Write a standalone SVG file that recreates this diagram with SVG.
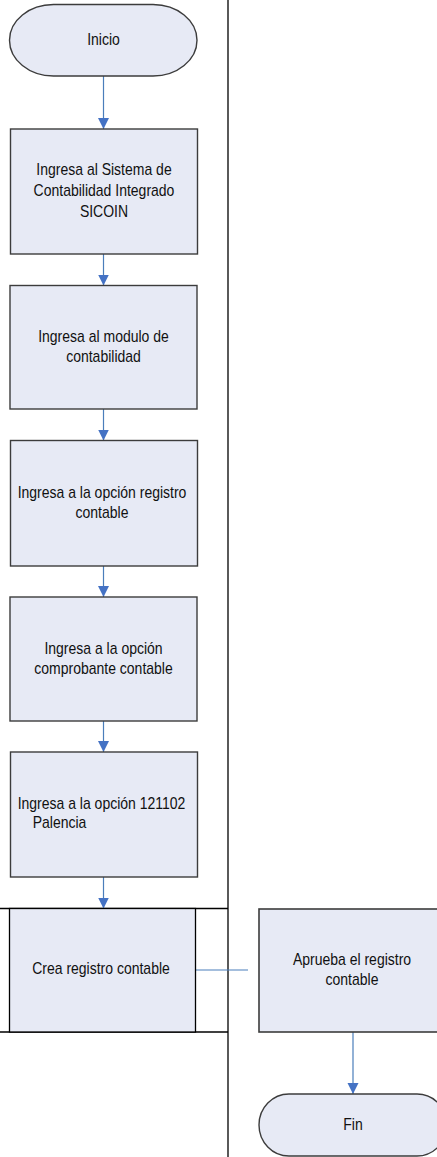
<svg xmlns="http://www.w3.org/2000/svg" width="437" height="1157" viewBox="0 0 437 1157">
<style>
.box{fill:#E7EAF5;stroke:#3c3c3c;stroke-width:1.4}
.lane{fill:none;stroke:#000;stroke-width:1.3}
.conn{fill:none;stroke:#4A7EBB;stroke-width:1.2}
text{font-family:"Liberation Sans",Arial,sans-serif;font-size:14px;fill:#111;text-anchor:middle}
</style>
<defs>
<marker id="arr" markerWidth="12" markerHeight="12" refX="11" refY="6" orient="auto" markerUnits="userSpaceOnUse">
<path d="M0,0.5 L11,6 L0,11.5 Z" fill="#4472C4"/>
</marker>
</defs>
<g id="lanes">
<line class="lane" x1="228" y1="0" x2="228" y2="1157"/>
<line class="lane" x1="0" y1="908.5" x2="228" y2="908.5"/>
<line class="lane" x1="0" y1="1032" x2="228" y2="1032"/>
</g>
<g id="connectors">
<line class="conn" x1="103.5" y1="76" x2="103.5" y2="129" marker-end="url(#arr)"/>
<line class="conn" x1="103.5" y1="254" x2="103.5" y2="285.5" marker-end="url(#arr)"/>
<line class="conn" x1="103.5" y1="409" x2="103.5" y2="440.5" marker-end="url(#arr)"/>
<line class="conn" x1="103.5" y1="566" x2="103.5" y2="597" marker-end="url(#arr)"/>
<line class="conn" x1="103.5" y1="721" x2="103.5" y2="752" marker-end="url(#arr)"/>
<line class="conn" x1="103.5" y1="877" x2="103.5" y2="908.5" marker-end="url(#arr)"/>
<line class="conn" x1="195.5" y1="970" x2="248" y2="970"/>
<line class="conn" x1="353" y1="1032" x2="353" y2="1094" marker-end="url(#arr)"/>
</g>
<g id="inicio">
<rect class="box" x="9.5" y="4.5" width="187.5" height="71.5" rx="44" ry="35.75"/>
<text transform="translate(103.5 45) scale(1 1.14)">Inicio</text>
</g>
<g id="n1">
<rect class="box" x="10.5" y="129" width="187" height="125"/>
<text transform="translate(104 175) scale(1 1.14)">Ingresa al Sistema de</text>
<text transform="translate(104 196) scale(1 1.14)">Contabilidad Integrado</text>
<text transform="translate(104 217) scale(1 1.14)">SICOIN</text>
</g>
<g id="n2">
<rect class="box" x="10" y="285.5" width="187" height="123.5"/>
<text transform="translate(103.5 342) scale(1 1.14)">Ingresa al modulo de</text>
<text transform="translate(103.5 362) scale(1 1.14)">contabilidad</text>
</g>
<g id="n3">
<rect class="box" x="10.5" y="440.5" width="187" height="125.5"/>
<text transform="translate(102 498) scale(1 1.14)">Ingresa a la opción registro</text>
<text transform="translate(102 518) scale(1 1.14)">contable</text>
</g>
<g id="n4">
<rect class="box" x="10" y="597" width="187" height="124"/>
<text transform="translate(103.5 653.5) scale(1 1.14)">Ingresa a la opción</text>
<text transform="translate(103.5 674) scale(1 1.14)">comprobante contable</text>
</g>
<g id="n5">
<rect class="box" x="10.5" y="752" width="187" height="125"/>
<text transform="translate(101.5 808.5) scale(1 1.14)">Ingresa a la opción 121102</text>
<text transform="translate(32.7 828) scale(1 1.14)" style="text-anchor:start">Palencia</text>
</g>
<g id="n6">
<rect class="box" x="9.5" y="908.5" width="186" height="123.5" style="stroke:#000;stroke-width:1.3"/>
<text transform="translate(101 974) scale(1 1.14)">Crea registro contable</text>
</g>
<g id="n7">
<rect class="box" x="259" y="909" width="186" height="123" style="stroke-width:1.6"/>
<text transform="translate(352 965) scale(1 1.14)">Aprueba el registro</text>
<text transform="translate(352 985) scale(1 1.14)">contable</text>
</g>
<g id="fin">
<rect class="box" x="259" y="1094" width="188" height="62" rx="30" ry="31"/>
<text transform="translate(353 1130) scale(1 1.14)">Fin</text>
</g>
</svg>
